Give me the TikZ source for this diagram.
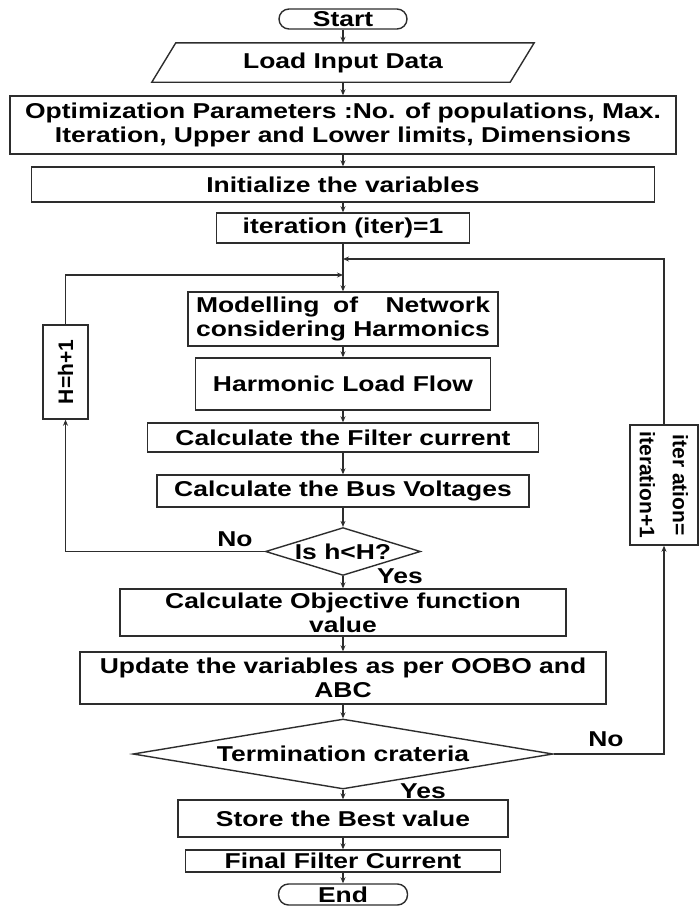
\documentclass[tikz,border=0pt]{standalone}
\usepackage{fontspec}
\usepackage{calc}
\setmainfont{Liberation Sans}[FakeStretch=1.23]
\newfontfamily\rotfont{Liberation Sans}
\usetikzlibrary{shapes.geometric,arrows.meta}
\definecolor{flowcolor0001}{RGB}{45,45,45}

\begin{document}
\begin{tikzpicture}[yscale=-1
,pstyle0/.style={draw=flowcolor0001,fill=white,line width=1.4pt,inner sep=0pt,align=center,font=\fontsize{21.5}{24}\selectfont\bfseries}
,pstyle1/.style={pstyle0,rounded corners=10pt}
,pstyle2/.style={pstyle0,diamond,aspect=3}
,pstyle3/.style={color=flowcolor0001,line width=1.2pt,-{Stealth[length=6pt,width=5pt]}}
,pstyle4/.style={color=flowcolor0001,line width=1.4pt}
,pstyle5/.style={inner sep=0pt,text=black,font=\fontsize{21.5}{24}\selectfont\bfseries}
,pstyle6/.style={pstyle0,font=\rotfont\fontsize{21}{33}\selectfont\bfseries}
]
\useasboundingbox (0pt,0pt) rectangle (699pt,906pt);
% main column
\node[pstyle1,minimum width=128pt,minimum height=20pt] (start) at (343pt,19pt) {Start};
\node[pstyle5,minimum width=358pt,minimum height=39pt] (load) at (343pt,62.5pt) {Load Input Data};
\draw[pstyle4] ([xshift=12pt]load.north west) -- ([xshift=12pt]load.north east) -- ([xshift=-12pt]load.south east) -- ([xshift=-12pt]load.south west) -- cycle;
\node[pstyle0,minimum width=666pt,minimum height=58pt] (optpar) at (343pt,125pt) {Optimization Parameters :No. of populations, Max.\\Iteration, Upper and Lower limits, Dimensions};
\node[pstyle0,minimum width=623pt,minimum height=35pt] (init) at (343pt,184.5pt) {Initialize the variables};
\node[pstyle0,minimum width=253pt,minimum height=30pt] (iterone) at (343pt,228pt) {iteration (iter)=1};
\node[pstyle0,minimum width=310pt,minimum height=54pt] (model) at (343pt,319pt) {\makebox[\widthof{considering Harmonics}][s]{Modelling of \ Network}\\considering Harmonics};
\node[pstyle0,minimum width=295pt,minimum height=52pt] (hlf) at (343pt,384pt) {Harmonic Load Flow};
\node[pstyle0,minimum width=391pt,minimum height=29pt] (filt) at (343pt,437.5pt) {Calculate the Filter current};
\node[pstyle0,minimum width=372pt,minimum height=32pt] (busv) at (343pt,491pt) {Calculate the Bus Voltages};
\node[pstyle2,minimum width=155pt,minimum height=47pt] (hcheck) at (343pt,551.5pt) {Is h<H?};
\node[pstyle0,minimum width=446pt,minimum height=47pt] (objval) at (343pt,612.5pt) {Calculate Objective function\\value};
\node[pstyle0,minimum width=526pt,minimum height=52pt] (update) at (343pt,678pt) {Update the variables as per OOBO and\\ABC};
\node[pstyle2,aspect=6,minimum width=420pt,minimum height=70pt] (termin) at (343pt,754pt) {Termination crateria};
\node[pstyle0,minimum width=330pt,minimum height=37pt] (best) at (343pt,818.5pt) {Store the Best value};
\node[pstyle0,minimum width=315pt,minimum height=22pt] (final) at (343pt,861pt) {Final Filter Current};
\node[pstyle1,minimum width=129pt,minimum height=21pt] (stop) at (343pt,894.5pt) {End};
% side boxes
\node[pstyle6,rotate=90,minimum width=94pt,minimum height=45pt] (hinc) at (65.5pt,372pt) {H=h+1};
\node[pstyle6,rotate=-90,minimum width=120pt,minimum height=68pt] (iterinc) at (664pt,485pt) {iter ation=\\iteration+1};
\coordinate (itjoin) at (343pt,259pt);
\coordinate (hjoin) at (343pt,275pt);
% labels
\node[pstyle5] (hno) at (235pt,539pt) {No};
\node[pstyle5] (hyes) at (400pt,576pt) {Yes};
\node[pstyle5] (tno) at (606pt,739pt) {No};
\node[pstyle5] (tyes) at (423pt,791pt) {Yes};
% connectors
\draw[pstyle3] (start.south) -- (load.north);
\draw[pstyle3] (load.south) -- (optpar.north);
\draw[pstyle3] (optpar.south) -- (init.north);
\draw[pstyle3] (init.south) -- (iterone.north);
\draw[pstyle3] (iterone.south) -- (model.north);
\draw[pstyle3] (model.south) -- (hlf.north);
\draw[pstyle3] (hlf.south) -- (filt.north);
\draw[pstyle3] (filt.south) -- (busv.north);
\draw[pstyle3] (busv.south) -- (hcheck.north);
\draw[pstyle3] (hcheck.south) -- (objval.north);
\draw[pstyle3] (objval.south) -- (update.north);
\draw[pstyle3] (update.south) -- (termin.north);
\draw[pstyle3] (termin.south) -- (best.north);
\draw[pstyle3] (best.south) -- (final.north);
\draw[pstyle3] (final.south) -- (stop.north);
\draw[pstyle3] (hcheck.west) -| (hinc.west);
\draw[pstyle3] (hinc.east) |- (hjoin);
\draw[pstyle3] (termin.east) -| (iterinc.east);
\draw[pstyle3] (iterinc.west) |- (itjoin);
\end{tikzpicture}
\end{document}
